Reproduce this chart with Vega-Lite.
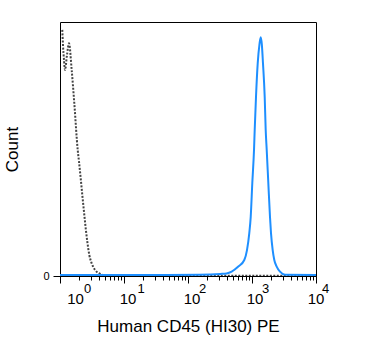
{
  "$schema": "https://vega.github.io/schema/vega-lite/v6.json",
  "width": 256,
  "height": 254,
  "autosize": "none",
  "padding": {"left": 60, "top": 22, "right": 59, "bottom": 82},
  "background": "white",
  "config": {
    "font": "Liberation Sans",
    "view": {"stroke": "#000000", "strokeWidth": 1},
    "axis": {"labelColor": "#000000", "titleColor": "#000000", "tickColor": "#000000", "grid": false, "domain": false, "titleFontWeight": "normal", "labelFont": "Liberation Sans", "titleFont": "Liberation Sans"}
  },
  "datasets": {
    "gray": [
      {"v": 1.086, "c": 96.9}, {"v": 1.114, "c": 90.9}, {"v": 1.155, "c": 85}, {"v": 1.197, "c": 81.1},
      {"v": 1.286, "c": 87}, {"v": 1.383, "c": 91.6}, {"v": 1.523, "c": 81.1}, {"v": 1.672, "c": 68.1},
      {"v": 1.891, "c": 49.6}, {"v": 1.981, "c": 45}, {"v": 2.105, "c": 38.5}, {"v": 2.23, "c": 31.9},
      {"v": 2.371, "c": 25.3}, {"v": 2.521, "c": 18.8}, {"v": 2.671, "c": 13.5}, {"v": 2.869, "c": 8.3},
      {"v": 3.129, "c": 5.0}, {"v": 3.523, "c": 2.4}, {"v": 4.066, "c": 1.1}, {"v": 4.75, "c": 0.4},
      {"v": 6, "c": 0.1}, {"v": 10000, "c": 0.1}
    ],
    "blue": [
      {"v": 1, "c": 0.4}, {"v": 25, "c": 0.4}, {"v": 150, "c": 0.5}, {"v": 320, "c": 0.8},
      {"v": 400, "c": 1.0}, {"v": 481, "c": 1.7}, {"v": 611, "c": 3.7}, {"v": 758, "c": 6.3},
      {"v": 835, "c": 10.2}, {"v": 907, "c": 16.9}, {"v": 955, "c": 23.3}, {"v": 1011, "c": 36.6},
      {"v": 1075, "c": 49.6}, {"v": 1102, "c": 57.5}, {"v": 1155, "c": 70.6}, {"v": 1228, "c": 83.7},
      {"v": 1309, "c": 91.3}, {"v": 1368, "c": 94.0}, {"v": 1423, "c": 91.3}, {"v": 1485, "c": 83.7},
      {"v": 1579, "c": 70.6}, {"v": 1637, "c": 57.5}, {"v": 1698, "c": 49.6}, {"v": 1799, "c": 36.6},
      {"v": 1910, "c": 23.3}, {"v": 1981, "c": 16.9}, {"v": 2105, "c": 10.2}, {"v": 2230, "c": 6.3},
      {"v": 2430, "c": 3.7}, {"v": 2738, "c": 1.7}, {"v": 3281, "c": 0.5}, {"v": 10000, "c": 0.4}
    ]
  },
  "resolve": {"axis": {"x": "independent"}},
  "layer": [
    {
      "data": {"name": "gray"},
      "mark": {"type": "line", "color": "#444444", "strokeWidth": 2, "strokeDash": [2, 1.5], "interpolate": "monotone", "clip": true},
      "encoding": {
        "x": {"field": "v", "type": "quantitative",
          "scale": {"type": "log", "domain": [1, 10000], "nice": false},
          "axis": {"orient": "bottom", "title": null,
            "values": [1,2,3,4,5,6,7,8,9,10,20,30,40,50,60,70,80,90,100,200,300,400,500,600,700,800,900,1000,2000,3000,4000,5000,6000,7000,8000,9000,10000],
            "tickSize": 4, "labelFontSize": 13, "labelBaseline": "alphabetic", "labelPadding": 12,
            "labelFlush": false, "labelOverlap": false, "labelAlign": "center",
            "labelExpr": "datum.value == 1 ? '0' : datum.value == 10 ? '1' : datum.value == 100 ? '2' : datum.value == 1000 ? '3' : datum.value == 10000 ? '4' : ''",
            "labelOffset": {"condition": [
              {"test": "datum.value == 1", "value": 27},
              {"test": "datum.value == 10", "value": 16.5},
              {"test": "datum.value == 100", "value": 14},
              {"test": "datum.value == 1000", "value": 13}
            ], "value": 9}
          }
        },
        "y": {"field": "c", "type": "quantitative",
          "scale": {"domain": [0, 100], "nice": false},
          "axis": {"values": [0], "tickSize": 7, "labelFontSize": 11, "labelPadding": 4, "labelDy": -2,
            "title": "Count", "titleFontSize": 17, "titleX": -43, "titleY": 127, "titleBaseline": "alphabetic", "titleAngle": -90}
        }
      }
    },
    {
      "data": {"name": "blue"},
      "mark": {"type": "line", "color": "#1e8fff", "strokeWidth": 2, "interpolate": "monotone", "clip": true},
      "encoding": {
        "x": {"field": "v", "type": "quantitative",
          "scale": {"type": "log", "domain": [1, 10000], "nice": false},
          "axis": {"orient": "bottom", "title": "Human CD45 (HI30) PE", "titleFontSize": 17, "titleY": 55, "titleBaseline": "alphabetic",
            "values": [1, 10, 100, 1000, 10000],
            "tickSize": 7, "labelFontSize": 15, "labelBaseline": "alphabetic", "labelPadding": 20,
            "labelFlush": false, "labelOverlap": false, "labelAlign": "center",
            "labelExpr": "'10'",
            "labelOffset": {"condition": [
              {"test": "datum.value == 1", "value": 15},
              {"test": "datum.value == 1000", "value": 2.5},
              {"test": "datum.value == 10000", "value": -0.5}
            ], "value": 3.5}
          }
        },
        "y": {"field": "c", "type": "quantitative",
          "scale": {"domain": [0, 100], "nice": false}
        }
      }
    }
  ]
}
